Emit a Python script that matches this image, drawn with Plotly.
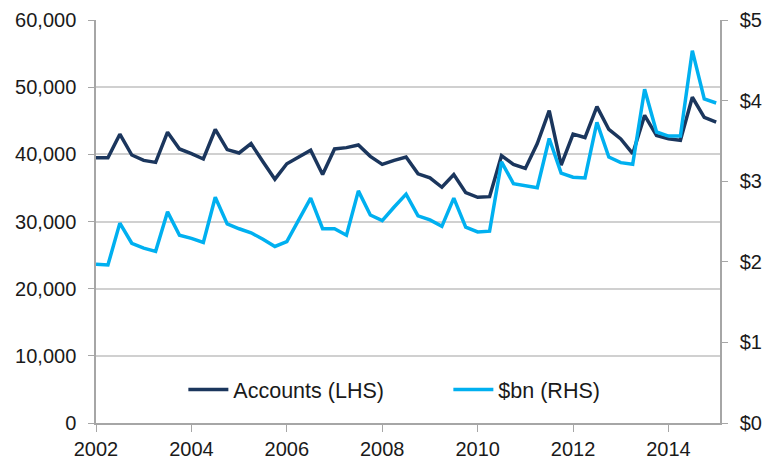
import plotly.graph_objects as go

# quarterly observations, 2002 Q1 .. 2015 Q1
start_year = 2002
accounts = [
    39500, 39500, 43000, 39900, 39100, 38800, 43300, 40800, 40100, 39300,
    43700, 40700, 40200, 41600, 38900, 36300, 38600, 39600, 40600, 37000,
    40800, 41000, 41400, 39700, 38500, 39100, 39600, 37100, 36500, 35100,
    37000, 34300, 33600, 33700, 39800, 38500, 37900, 41600, 46500, 38400,
    43000, 42500, 47100, 43700, 42300, 40100, 45800, 42800, 42300, 42100,
    48500, 45500, 44800,
]
dollars_bn = [
    1.97, 1.96, 2.48, 2.23, 2.17, 2.13, 2.62, 2.33, 2.29, 2.24,
    2.80, 2.47, 2.41, 2.36, 2.28, 2.19, 2.25, 2.52, 2.79, 2.41,
    2.41, 2.33, 2.88, 2.58, 2.51, 2.68, 2.84, 2.57, 2.52, 2.44,
    2.79, 2.43, 2.37, 2.38, 3.24, 2.97, 2.94, 2.92, 3.53, 3.10,
    3.05, 3.04, 3.73, 3.30, 3.23, 3.21, 4.14, 3.61, 3.56, 3.56,
    4.62, 4.02, 3.97,
]
years = [start_year + i / 4 for i in range(len(accounts))]

left_ticks = [0, 10000, 20000, 30000, 40000, 50000, 60000]
right_ticks = [0, 1, 2, 3, 4, 5]
right_labels = ["$0", "$1", "$2", "$3", "$4", "$5"]
x_ticks = [2002, 2004, 2006, 2008, 2010, 2012, 2014]

DARK = "#1B365D"
LIGHT = "#00B0F0"
GRID = "#D0D0D0"
AXIS = "#A6A6A6"

fig = go.Figure()
fig.add_trace(go.Scatter(
    x=years, y=accounts, name="Accounts (LHS)", mode="lines",
    line=dict(color=DARK, width=3.5), yaxis="y",
))
fig.add_trace(go.Scatter(
    x=years, y=dollars_bn, name="$bn (RHS)", mode="lines",
    line=dict(color=LIGHT, width=3.5), yaxis="y2",
))

fig.update_layout(
    width=764, height=464,
    margin=dict(l=96, r=44, t=20, b=41, autoexpand=False),
    paper_bgcolor="white", plot_bgcolor="white",
    font=dict(family="Liberation Sans, Arial, sans-serif", size=20, color="#1a1a1a"),
    showlegend=True,
    legend=dict(
        orientation="h", x=0.14, xanchor="left", y=0.083, yanchor="middle",
        bgcolor="rgba(0,0,0,0)", font=dict(size=21.5), traceorder="normal",
        itemwidth=40, entrywidth=210,
    ),
    xaxis=dict(
        range=[2002, 2015.08], tickvals=x_ticks, showgrid=False,
        showline=True, linecolor=AXIS, linewidth=1.5, automargin=False,
        ticks="outside", ticklen=7, tickcolor=AXIS, zeroline=False,
    ),
    yaxis=dict(
        range=[0, 60000], tickvals=left_ticks, tickformat=",",
        showgrid=True, gridcolor=GRID, gridwidth=1.5, automargin=False,
        showline=True, linecolor=AXIS, linewidth=1.5,
        ticks="outside", ticklen=6, tickcolor=AXIS, zeroline=False,
        ticklabelstandoff=8,
    ),
    yaxis2=dict(
        range=[0, 5], tickmode="array", tickvals=right_ticks, ticktext=right_labels,
        overlaying="y", side="right", showgrid=False, automargin=False,
        showline=True, linecolor=AXIS, linewidth=1.5,
        ticks="outside", ticklen=6, tickcolor=AXIS, zeroline=False,
        ticklabelstandoff=8,
    ),
)

# drop the browser's default 8px body margin so the figure fills the window
fig.write_html(
    "out.html",
    config={"displayModeBar": False},
    post_script="document.body.style.margin='0';document.body.style.overflow='hidden';",
)
